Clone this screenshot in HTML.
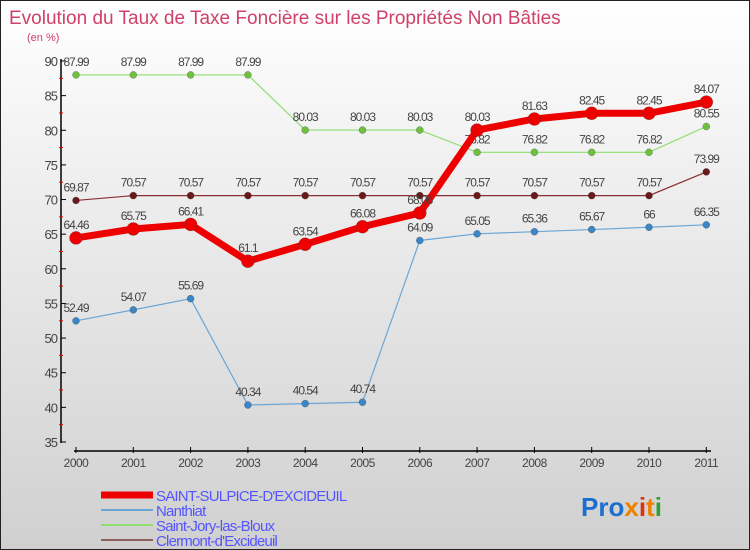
<!DOCTYPE html>
<html><head><meta charset="utf-8"><style>
body{margin:0}
#c{position:relative;width:748px;height:548px;border:1px solid #222;background:linear-gradient(#fff,#f0f0f0 30%,#d0d0d0);font-family:"Liberation Sans",sans-serif;overflow:hidden}
svg{position:absolute;left:0;top:0}
</style></head><body>
<div id="c">
<svg id="s" width="750" height="550">
<text x="8" y="23" font-size="19" fill="#d0406a">Evolution du Taux de Taxe Foncière sur les Propriétés Non Bâties</text>
<text x="26" y="40" font-size="11" fill="#d0406a">(en %)</text>
<text x="580" y="515" font-size="26" font-weight="bold"><tspan fill="#1a6fd0">Pro</tspan><tspan fill="#f08000">x</tspan><tspan fill="#e03010">i</tspan><tspan fill="#f08000">t</tspan><tspan fill="#30a030">i</tspan></text>
</svg>
</div>
<script>
const years=[2000,2001,2002,2003,2004,2005,2006,2007,2008,2009,2010,2011];
const yTicks=[35,40,45,50,55,60,65,70,75,80,85,90];
const sulpice=[64.46,65.75,66.41,61.1,63.54,66.08,68.06,80.03,81.63,82.45,82.45,84.07];
const nanthiat=[52.49,54.07,55.69,40.34,40.54,40.74,64.09,65.05,65.36,65.67,66,66.35];
const jory=[87.99,87.99,87.99,87.99,80.03,80.03,80.03,76.82,76.82,76.82,76.82,80.55];
const clermont=[69.87,70.57,70.57,70.57,70.57,70.57,70.57,70.57,70.57,70.57,70.57,73.99];
const names=["SAINT-SULPICE-D'EXCIDEUIL","Nanthiat","Saint-Jory-las-Bloux","Clermont-d'Excideuil"];
const s=document.getElementById('s');
const NS='http://www.w3.org/2000/svg';
const X=i=>75+i*57.3;
const Y=v=>60+(90-v)*(381/55);
function el(t,a,p){const e=document.createElementNS(NS,t);for(const k in a)e.setAttribute(k,a[k]);(p||s).appendChild(e);return e;}
// axes
let ax=el('line',{x1:60,y1:58,x2:60,y2:442,stroke:'#000','stroke-width':1.5});


let bx=el('line',{x1:73,y1:450,x2:710,y2:450,stroke:'#000','stroke-width':1.5});


yTicks.forEach(v=>{
  el('line',{x1:60,y1:Y(v),x2:65,y2:Y(v),stroke:'#000'});
  if(v<90)el('line',{x1:58,y1:Y(v+2.5),x2:62,y2:Y(v+2.5),stroke:'#e00'});
  const t=el('text',{x:56,y:Y(v)+5,'font-size':13,'text-anchor':'end',fill:'#444','letter-spacing':'-1'});
  t.textContent=v;
  
  
});
years.forEach((y,i)=>{
  el('line',{x1:X(i),y1:446,x2:X(i),y2:452,stroke:'#000'});
  const t=el('text',{x:X(i),y:466,'font-size':12,'text-anchor':'middle',fill:'#444','letter-spacing':'-0.5'});
  t.textContent=y;
  
  
});
const series=[
 {d:clermont,c:'#8a3030',fc:'#6a1a1a',w:1.2,r:3.5,n:'clermont'},
 {d:jory,c:'#90dd70',fc:'#70c040',w:1.2,r:3.5,n:'saint-jory'},
 {d:nanthiat,c:'#6aa6d6',fc:'#3a86c6',w:1.2,r:3.5,n:'nanthiat'},
 {d:sulpice,c:'#ee0000',fc:'#ee0000',w:7,r:6.5,n:'saint-sulpice'}
];
series.forEach(se=>{
  const p=el('polyline',{points:se.d.map((v,i)=>X(i)+','+Y(v)).join(' '),fill:'none',stroke:se.c,'stroke-width':se.w});
  
  
  se.d.forEach((v,i)=>{
    const c=el('circle',{cx:X(i),cy:Y(v),r:se.r,fill:se.fc,stroke:'#444','stroke-width':0.3});
    
    
    const t=el('text',{x:X(i),y:Y(v)-9,'font-size':12,'text-anchor':'middle',fill:'#444','letter-spacing':'-1'});
    t.textContent=v;
    
    
  });
});
// legend
const lc=['#ee0000','#6aa6d6','#90dd70','#906060'];
const lw=[7,2,2,2];
names.forEach((n,i)=>{
  const y=494+i*15;
  el('line',{x1:100,y1:y,x2:152,y2:y,stroke:lc[i],'stroke-width':lw[i]});
  const t=el('text',{x:155,y:y+6,'font-size':15,fill:'#5555ff','letter-spacing':'-0.8'});
  t.textContent=n;
  
  
});
</script>
</body></html>
